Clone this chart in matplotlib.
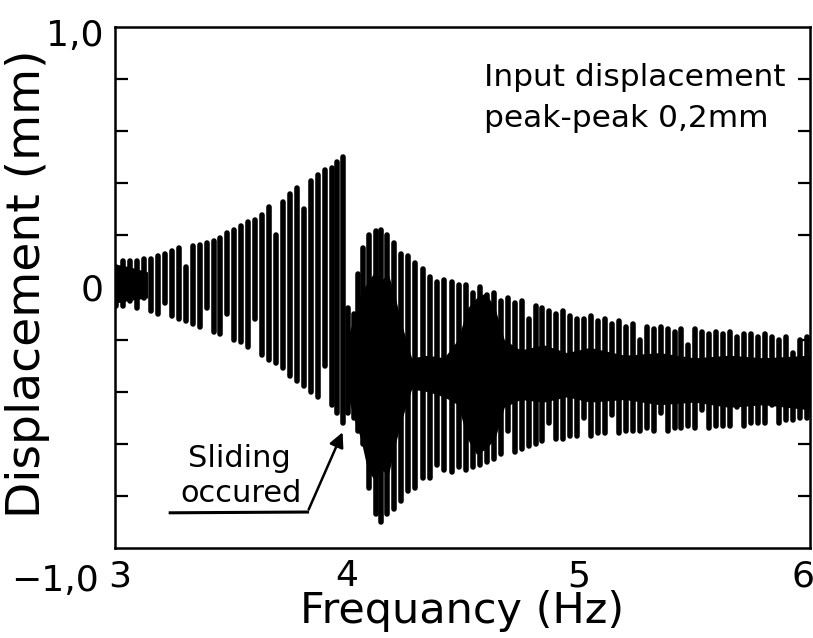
import matplotlib
matplotlib.use("Agg")
import matplotlib.pyplot as plt
from matplotlib.transforms import ScaledTranslation

# one vertical stroke per oscillation cycle: frequency, crest, trough (mm)
stroke_hz = [3.005, 3.035, 3.065, 3.095, 3.125, 3.155, 3.185, 3.215, 3.245, 3.275,
             3.305, 3.335, 3.365, 3.395, 3.425, 3.455, 3.485, 3.515, 3.545, 3.575,
             3.605, 3.635, 3.665, 3.695, 3.725, 3.755, 3.785, 3.815, 3.845, 3.875,
             3.905, 3.935, 3.960, 3.985,
             4.005, 4.030, 4.050, 4.070,
             4.095, 4.125, 4.150, 4.175, 4.205, 4.235, 4.265, 4.295, 4.330, 4.360,
             4.390, 4.420, 4.455, 4.485,
             4.515, 4.545, 4.575, 4.605, 4.635, 4.665, 4.695, 4.725, 4.755, 4.785,
             4.815, 4.845, 4.875, 4.905, 4.935, 4.965, 4.995, 5.025, 5.055, 5.085,
             5.115, 5.145, 5.175, 5.205, 5.235, 5.265, 5.295, 5.325, 5.355, 5.385,
             5.415, 5.445, 5.475, 5.505, 5.535, 5.565, 5.595, 5.625, 5.655, 5.685,
             5.715, 5.745, 5.775, 5.805, 5.835, 5.865, 5.895, 5.925, 5.955, 5.985]
stroke_top = [0.08, 0.10, 0.10, 0.10, 0.11, 0.11, 0.12, 0.13, 0.14, 0.15,
              0.08, 0.16, 0.165, 0.17, 0.18, 0.19, 0.21, 0.22, 0.235, 0.25,
              0.26, 0.28, 0.31, 0.20, 0.33, 0.36, 0.38, 0.30, 0.41, 0.43,
              0.45, 0.46, 0.48, 0.50,
              -0.08, -0.10, 0.05, 0.15,
              0.20, 0.215, 0.22, 0.20, 0.17, 0.13, 0.12, 0.095, 0.07, 0.04,
              0.02, 0.03, 0.02, 0.01,
              0.01, -0.02, 0.00, -0.03, -0.02, -0.05, -0.04, -0.06, -0.05, -0.12,
              -0.07, -0.08, -0.09, -0.10, -0.09, -0.11, -0.12, -0.12, -0.11, -0.13,
              -0.12, -0.14, -0.13, -0.15, -0.14, -0.20, -0.15, -0.16, -0.15, -0.16,
              -0.17, -0.16, -0.22, -0.16, -0.17, -0.18, -0.17, -0.18, -0.17, -0.19,
              -0.18, -0.18, -0.19, -0.18, -0.19, -0.20, -0.19, -0.25, -0.20, -0.19]
stroke_bot = [-0.07, -0.07, -0.05, -0.08, -0.04, -0.09, -0.10, -0.06, -0.11, -0.12,
              -0.13, -0.14, -0.15, -0.08, -0.17, -0.18, -0.10, -0.20, -0.21, -0.23,
              -0.12, -0.26, -0.28, -0.29, -0.31, -0.34, -0.36, -0.38, -0.40, -0.42,
              -0.30, -0.45, -0.48, -0.52,
              -0.48, -0.50, -0.55, -0.60,
              -0.77, -0.87, -0.90, -0.87, -0.85, -0.82, -0.78, -0.77, -0.73, -0.73,
              -0.68, -0.70, -0.71, -0.69,
              -0.70, -0.69, -0.68, -0.67, -0.66, -0.64, -0.55, -0.63, -0.62, -0.61,
              -0.60, -0.59, -0.52, -0.58, -0.58, -0.57, -0.57, -0.50, -0.57, -0.56,
              -0.56, -0.49, -0.56, -0.55, -0.55, -0.55, -0.54, -0.55, -0.48, -0.55,
              -0.54, -0.54, -0.53, -0.54, -0.47, -0.54, -0.53, -0.53, -0.53, -0.46,
              -0.53, -0.52, -0.52, -0.52, -0.45, -0.52, -0.51, -0.51, -0.50, -0.50]

# solid dark band where the trace is too dense to separate
core_hz = [4.00, 4.03, 4.06, 4.09, 4.12, 4.15, 4.18, 4.21, 4.24, 4.28, 4.35, 4.42, 4.48,
           4.52, 4.56, 4.60, 4.64, 4.68, 4.75, 4.85, 4.95, 5.05, 5.20, 5.35, 5.50, 5.65,
           5.80, 6.00]
core_top = [-0.20, -0.12, -0.02, 0.02, 0.06, 0.03, 0.05, -0.04, -0.15, -0.27, -0.26, -0.27,
            -0.20, -0.08, -0.04, -0.02, -0.08, -0.20, -0.24, -0.22, -0.25, -0.23, -0.26,
            -0.25, -0.27, -0.26, -0.27, -0.26]
core_bot = [-0.40, -0.50, -0.58, -0.70, -0.74, -0.70, -0.72, -0.60, -0.50, -0.39, -0.40,
            -0.42, -0.45, -0.58, -0.64, -0.62, -0.58, -0.46, -0.43, -0.44, -0.42, -0.44,
            -0.43, -0.45, -0.44, -0.46, -0.45, -0.47]

# blob at the start of the sweep
blob_hz = [3.00, 3.06, 3.14]
blob_top = [0.09, 0.08, 0.06]
blob_bot = [-0.06, -0.05, -0.04]

x_ticks = [3, 4, 5, 6]
x_ticklabels = ["3", "4", "5", "6"]
y_ticks = [-1.0, 0.0, 1.0]
y_ticklabels = ["\u22121,0", "0", "1,0"]

fig = plt.figure(figsize=(8.13, 6.38), dpi=100)
ax = fig.add_axes([0.1415, 0.1411, 0.8549, 0.8166])

ax.fill_between(core_hz, core_bot, core_top, color="black", lw=0)
ax.fill_between(blob_hz, blob_bot, blob_top, color="black", lw=0)
ax.vlines(stroke_hz, stroke_bot, stroke_top, colors="black", lw=4.0, capstyle="round")

ax.set_xlim(3, 6)
ax.set_ylim(-1, 1)
for s in ax.spines.values():
    s.set_linewidth(1.8)

# ticks
ax.set_xticks(x_ticks)
ax.set_xticklabels(x_ticklabels, fontsize=26)
ax.set_yticks(y_ticks)
ax.set_yticklabels(y_ticklabels, fontsize=26)
ax.tick_params(axis="both", length=0, pad=8)
ax.set_xticks([4, 5], minor=True)
ax.set_yticks([-0.8, -0.6, -0.4, -0.2, 0.2, 0.4, 0.6, 0.8], minor=True)
ax.tick_params(which="minor", direction="in", length=9, width=1.6,
               top=True, right=True, bottom=True, left=True)

tr = fig.dpi_scale_trans
ylb = ax.get_yticklabels()
ylb[0].set_transform(ylb[0].get_transform() + ScaledTranslation(-0.05, -0.30, tr))
ylb[2].set_transform(ylb[2].get_transform() + ScaledTranslation(0, -0.06, tr))
xlb = ax.get_xticklabels()
xlb[0].set_transform(xlb[0].get_transform() + ScaledTranslation(0.05, 0, tr))
xlb[3].set_transform(xlb[3].get_transform() + ScaledTranslation(-0.07, 0, tr))

ax.set_xlabel("Frequancy (Hz)", fontsize=31, labelpad=-2)
fig.text(0.034, 0.556, "Displacement (mm)", fontsize=34, rotation=90,
         ha="center", va="center")

ax.text(4.593, 0.773, "Input displacement", fontsize=22.5, va="baseline")
ax.text(4.593, 0.615, "peak-peak 0,2mm", fontsize=22.5, va="baseline")

ax.text(3.316, -0.69, "Sliding", fontsize=22, va="baseline")
ax.text(3.28, -0.823, "occured", fontsize=22, va="baseline")
ax.plot([3.238, 3.831], [-0.865, -0.862], color="black", lw=2.2)
ax.annotate("", xy=(3.987, -0.546), xytext=(3.831, -0.862),
            arrowprops=dict(arrowstyle="-|>", color="black", lw=1.8, mutation_scale=22))

fig.savefig("out.png", dpi=100)
